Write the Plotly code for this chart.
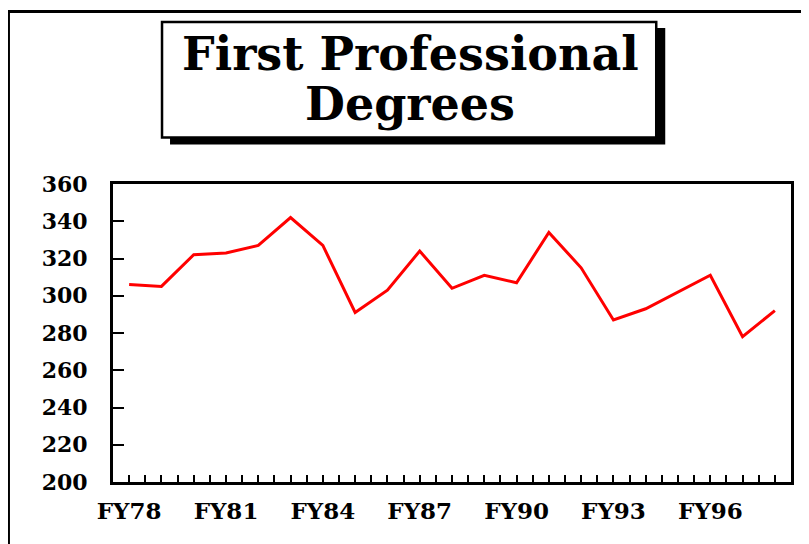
import plotly.graph_objects as go

years = ["FY78", "FY79", "FY80", "FY81", "FY82", "FY83", "FY84", "FY85", "FY86", "FY87",
         "FY88", "FY89", "FY90", "FY91", "FY92", "FY93", "FY94", "FY95", "FY96", "FY97", "FY98"]
degrees = [306, 305, 322, 323, 327, 342, 327, 291, 303, 324,
           304, 311, 307, 334, 315, 287, 293, 302, 311, 278, 292]
y_ticks = [200, 220, 240, 260, 280, 300, 320, 340, 360]
title_lines = ["First Professional", "Degrees"]

# page body has an 8px margin; work in page pixels and convert
OFF = 8
W, H = 809 - OFF, 544 - OFF
L, R, T, B = 113 - OFF, 790.7 - OFF, 183.5 - OFF, 482.3 - OFF

def px(x):
    return (x - OFF - L) / (R - L)

def py(y):
    return (B - (y - OFF)) / (B - T)

xi = list(range(len(years)))
label_idx = [i for i in xi if i % 3 == 0 and i < len(years) - 1]

fig = go.Figure()
fig.add_trace(go.Scatter(x=xi, y=degrees, mode="lines",
                         line=dict(color="#ff0000", width=3), hoverinfo="skip",
                         showlegend=False))

font_family = "DejaVu Serif"

fig.update_layout(
    width=W, height=H,
    margin=dict(l=L, r=W - R, t=T, b=H - B, pad=0),
    paper_bgcolor="white", plot_bgcolor="white",
    showlegend=False,
    xaxis=dict(
        range=[-0.5, len(years) - 0.5],
        tickvals=label_idx,
        ticktext=[years[i] for i in label_idx],
        ticks="inside", ticklen=7, tickwidth=2, tickcolor="black",
        minor=dict(dtick=0.5, tick0=0, ticks="inside", ticklen=7, tickwidth=2, tickcolor="black"),
        showline=True, linecolor="black", linewidth=3, mirror=True,
        showgrid=False, zeroline=False,
        tickfont=dict(family=font_family, size=23, color="black", weight="bold"),
        ticklabelstandoff=6,
    ),
    yaxis=dict(
        range=[200, 360],
        tickvals=y_ticks,
        ticktext=[str(v) for v in y_ticks],
        ticks="inside", ticklen=11, tickwidth=2, tickcolor="black",
        showline=True, linecolor="black", linewidth=3, mirror=True,
        showgrid=False, zeroline=False,
        tickfont=dict(family=font_family, size=22, color="black", weight="bold"),
        ticklabelstandoff=18,
    ),
)

shapes = [
    # outer border
    dict(type="rect", xref="paper", yref="paper",
         x0=px(8.5), x1=px(830), y0=py(10.5), y1=py(570),
         line=dict(color="black", width=3), fillcolor="rgba(0,0,0,0)", layer="below"),
    # title shadow
    dict(type="rect", xref="paper", yref="paper",
         x0=px(170), x1=px(665), y0=py(27), y1=py(144),
         line=dict(width=0), fillcolor="black", layer="above"),
    # title box
    dict(type="rect", xref="paper", yref="paper",
         x0=px(162), x1=px(656), y0=py(21), y1=py(137),
         line=dict(color="black", width=2.5), fillcolor="white", layer="above"),
]
fig.update_layout(shapes=shapes)

fig.add_annotation(text=title_lines[0], xref="paper", yref="paper",
                   x=px(410), y=py(53), xanchor="center", yanchor="middle", showarrow=False,
                   font=dict(family=font_family, size=46, color="black", weight="bold"))
fig.add_annotation(text=title_lines[1], xref="paper", yref="paper",
                   x=px(410), y=py(103), xanchor="center", yanchor="middle", showarrow=False,
                   font=dict(family=font_family, size=46, color="black", weight="bold"))

fig.write_html("out.html")
